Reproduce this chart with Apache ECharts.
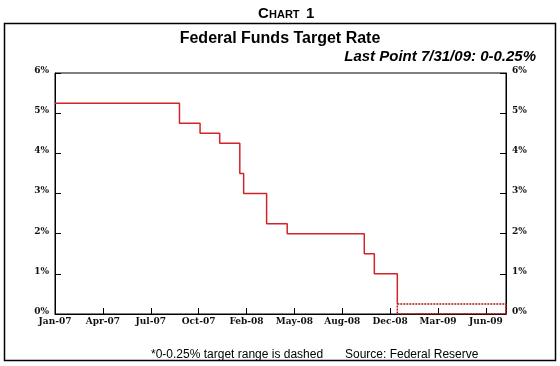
<!DOCTYPE html>
<html>
<head>
<meta charset="utf-8">
<script src="https://cdn.jsdelivr.net/npm/echarts@6/dist/echarts.min.js"></script>
<style>html,body{margin:0;padding:0;background:#fff}#c{width:560px;height:366px}</style>
</head>
<body>
<div id="c"></div>
<script>
// ---- data ----
const axisStart = '2007-01-01';
const axisEnd = '2009-07-31';
const tickStepDays = 100;
const changeDates = ['2007-01-01','2007-09-18','2007-10-31','2007-12-11','2008-01-22','2008-01-30','2008-03-18','2008-04-30','2008-10-08','2008-10-29','2008-12-16'];
const targetRates = [5.25, 4.75, 4.50, 4.25, 3.50, 3.00, 2.25, 2.00, 1.50, 1.00, 0.25];
const rangeStart = '2008-12-16';
const rangeEnd = '2009-07-31';
const rangeLow = 0;
const rangeHigh = 0.25;
const yTicks = [0, 1, 2, 3, 4, 5, 6];
const monthNames = ['Jan','Feb','Mar','Apr','May','Jun','Jul','Aug','Sep','Oct','Nov','Dec'];

// ---- helpers ----
const DAY = 86400000;
const t0 = Date.parse(axisStart + 'T00:00:00Z');
const dayOf = s => Math.round((Date.parse(s + 'T00:00:00Z') - t0) / DAY);
const fmtDay = d => {
  const dt = new Date(t0 + d * DAY);
  return monthNames[dt.getUTCMonth()] + '-' + String(dt.getUTCFullYear() % 100).padStart(2, '0');
};

const solidData = changeDates.map((d, i) => [dayOf(d), targetRates[i]]);
const rs = dayOf(rangeStart), re = dayOf(rangeEnd);
const rangeData = [[rs, rangeHigh], [re, rangeHigh], [re, rangeLow], [rs, rangeLow], [rs, rangeHigh]];

const axisFont = {fontFamily: 'DejaVu Serif', fontWeight: 'bold', fontSize: 9, color: '#111'};

const chart = echarts.init(document.getElementById('c'), null, {renderer: 'canvas'});
chart.setOption({
  animation: false,
  backgroundColor: '#fff',
  grid: {left: 55, right: 54, top: 73, bottom: 52, show: true, borderColor: '#000', borderWidth: 1},
  title: [
    {text: 'C', left: 253, top: 1, textStyle: {fontFamily: 'Liberation Sans', fontWeight: 'bold', fontSize: 15, color: '#000'}},
    {text: 'HART', left: 264, top: 4, textStyle: {fontFamily: 'Liberation Sans', fontWeight: 'bold', fontSize: 11, color: '#000'}},
    {text: '1', left: 301, top: 1, textStyle: {fontFamily: 'Liberation Sans', fontWeight: 'bold', fontSize: 15, color: '#000'}},
    {text: 'Federal Funds Target Rate', left: 'center', top: 26, textStyle: {fontFamily: 'Liberation Sans', fontWeight: 'bold', fontSize: 16, color: '#000'}},
    {text: 'Last Point 7/31/09: 0-0.25%', right: 19, top: 44, textStyle: {fontFamily: 'Liberation Sans', fontWeight: 'bold', fontStyle: 'italic', fontSize: 15, color: '#000'}},
    {text: '*0-0.25% target range is dashed', left: 146, top: 344, textStyle: {fontFamily: 'Liberation Sans', fontWeight: 'normal', fontSize: 12, color: '#000'}},
    {text: 'Source: Federal Reserve', left: 340, top: 344, textStyle: {fontFamily: 'Liberation Sans', fontWeight: 'normal', fontSize: 12, color: '#000'}}
  ],
  graphic: [
    {type: 'rect', shape: {x: 4.5, y: 23.5, width: 551, height: 337}, style: {fill: 'none', stroke: '#000', lineWidth: 1.5}, silent: true, z: -1}
  ],
  xAxis: {
    type: 'value', min: 0, max: dayOf(axisEnd), interval: tickStepDays,
    splitLine: {show: false},
    axisLine: {show: true, lineStyle: {color: '#000', width: 1}},
    axisTick: {show: true, inside: true, length: 6, lineStyle: {color: '#000'}},
    axisLabel: Object.assign({formatter: v => fmtDay(v), margin: 3, showMaxLabel: false, showMinLabel: true, hideOverlap: false}, axisFont)
  },
  yAxis: [
    {type: 'value', min: yTicks[0], max: yTicks[yTicks.length - 1], interval: 1, position: 'left',
     splitLine: {show: false},
     axisLine: {show: true, lineStyle: {color: '#000'}},
     axisTick: {show: true, inside: true, length: 6, lineStyle: {color: '#000'}},
     axisLabel: Object.assign({formatter: v => v + '%', margin: 6, verticalAlign: 'bottom', padding: [0, 0, -2, 0]}, axisFont)},
    {type: 'value', min: yTicks[0], max: yTicks[yTicks.length - 1], interval: 1, position: 'right',
     splitLine: {show: false},
     axisLine: {show: true, lineStyle: {color: '#000'}},
     axisTick: {show: true, inside: true, length: 6, lineStyle: {color: '#000'}},
     axisLabel: Object.assign({formatter: v => v + '%', margin: 6, verticalAlign: 'bottom', padding: [0, 0, -2, 0]}, axisFont)}
  ],
  series: [
    {type: 'line', step: 'end', data: solidData, showSymbol: false, lineStyle: {color: '#d2232a', width: 1.5}, z: 3},
    {type: 'line', data: rangeData, showSymbol: false, lineStyle: {color: '#b3121c', width: 1.5, type: [2, 1]}, z: 4}
  ]
});
</script>
</body>
</html>
